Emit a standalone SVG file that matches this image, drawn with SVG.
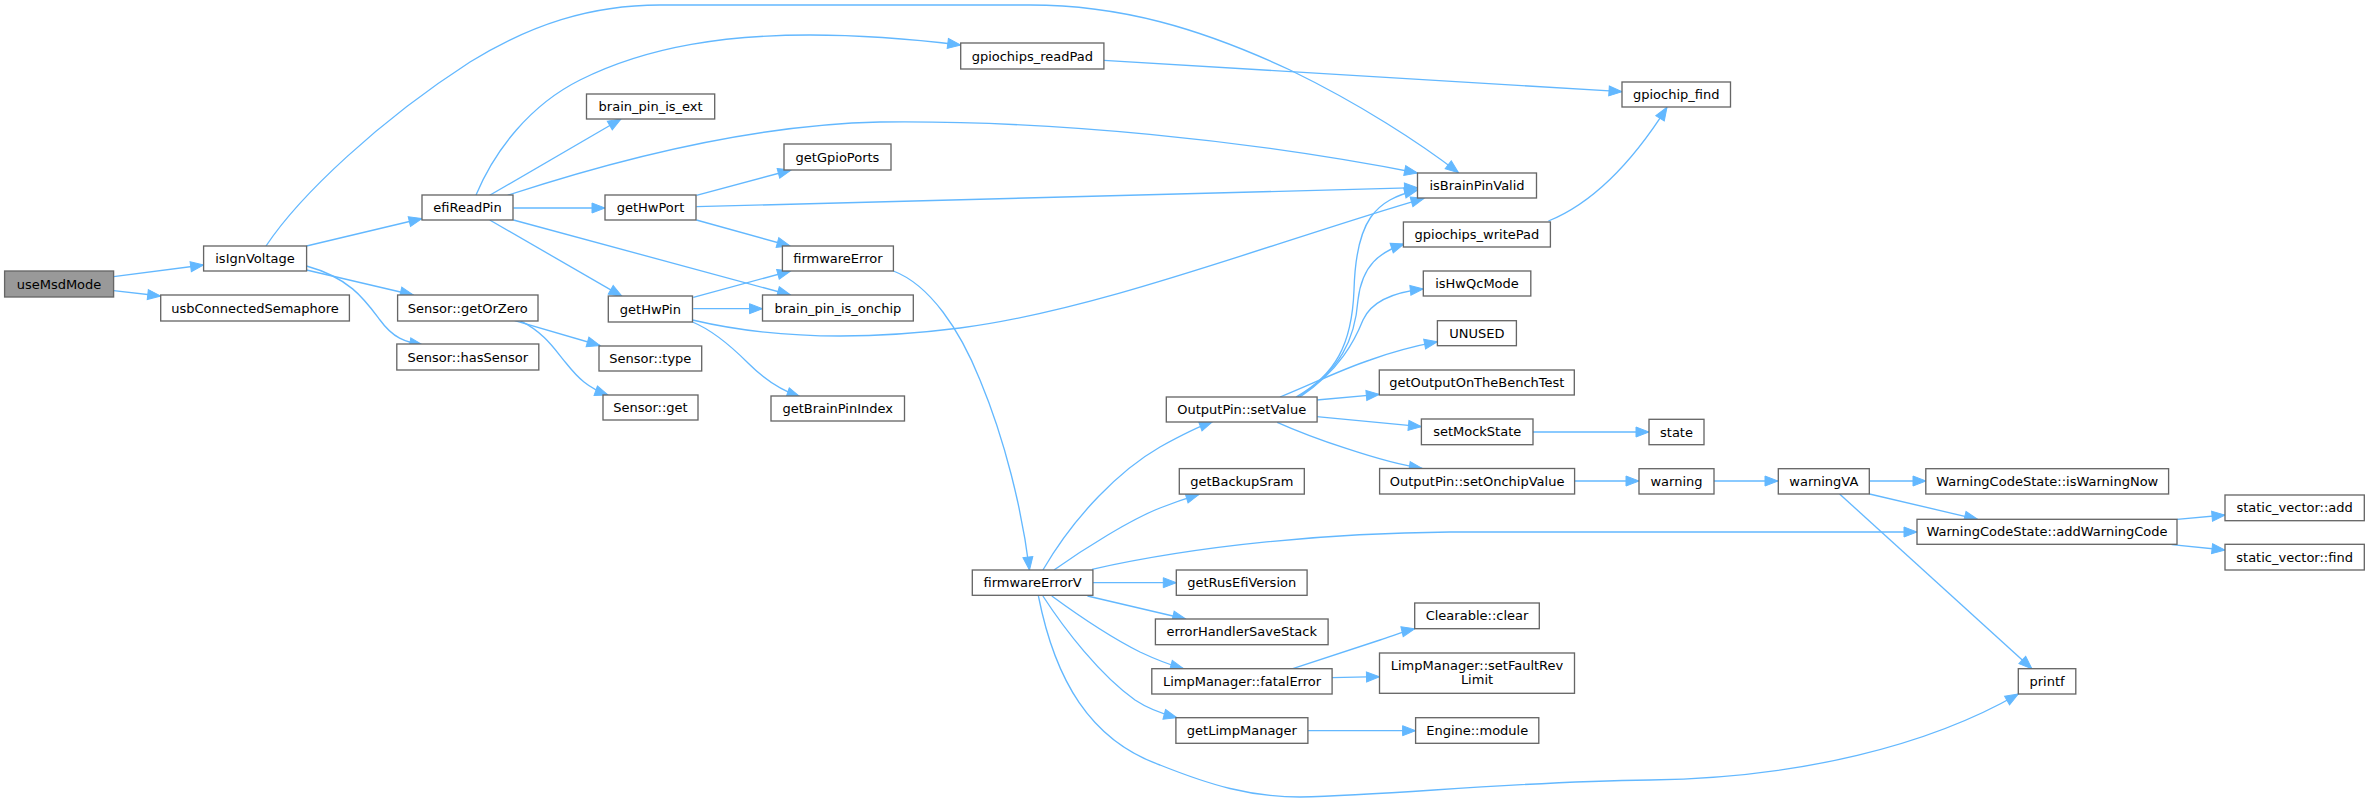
<svg xmlns="http://www.w3.org/2000/svg" width="2369" height="802" viewBox="0 0 2369 802">
<style>
.n rect{fill:#fff;stroke:#666;stroke-width:1.33}
.n.root rect{fill:#999}
.n text{font-family:"DejaVu Sans",sans-serif;font-size:13px;text-anchor:middle;fill:#000}
.e path{fill:none;stroke:#63b8ff;stroke-width:1.33;marker-end:url(#a)}
</style>
<defs>
<marker id="a" markerWidth="14" markerHeight="11" refX="13" refY="5" orient="auto" markerUnits="userSpaceOnUse" overflow="visible">
<path d="M0,0 L13,5 L0,10 z" fill="#63b8ff" stroke="#63b8ff" stroke-width="1"/>
</marker>
</defs>
<rect width="2369" height="802" fill="#fff"/>
<g id="edges" class="e">
<path d="M113.6,276.7 L203.6,265"/>
<path d="M113.6,290.7 L160.7,296"/>
<path d="M306.5,246 L422,218.5"/>
<path d="M266,246 C300,195 380,120 470,62 C530,25 590,5 660,5 L1030,5 C1120,5 1200,28 1290,70 C1360,104 1420,143 1458.5,172.7"/>
<path d="M306.5,270 L413.3,295"/>
<path d="M306.5,266 C350,278 365,300 380,320 C393,338 405,342 422.8,345"/>
<path d="M476,195 C495,150 530,105 580,80 C650,45 730,35 810,35 C870,35 920,40 960.7,45"/>
<path d="M489.7,195.3 L621,119"/>
<path d="M507.6,195.3 C600,165 740,125 880,122 C1050,120 1250,140 1417.5,173"/>
<path d="M513.4,208 L605,208"/>
<path d="M513.4,220 L790.5,295"/>
<path d="M489.7,220 L622,296.3"/>
<path d="M514.7,320.7 L600,345.5"/>
<path d="M520,320.7 C545,333 555,350 566,363 C578,378 588,388 608,395"/>
<path d="M696.4,195.3 L791,170"/>
<path d="M696.4,206.7 L1417.5,187.7"/>
<path d="M696.4,220 L790,246"/>
<path d="M693.3,297.3 L790.5,271"/>
<path d="M693.3,308.7 L762.5,308.7"/>
<path d="M692.5,320 C760,336 850,342 960,328 C1100,310 1280,240 1424,198.3"/>
<path d="M692.5,322 C712,330 730,345 748,363 C765,380 780,390 800,396.7"/>
<path d="M1103.9,60.3 L1622,91.7"/>
<path d="M893.4,271 C930,285 960,330 980,380 C1005,440 1022,510 1029.5,570"/>
<path d="M1042.9,570 C1075,515 1120,470 1160,447 C1180,436 1195,428 1212.5,421.7"/>
<path d="M1054,570 C1085,548 1130,520 1160,508 C1175,502 1187,498 1199,494.3"/>
<path d="M1092,569.3 C1200,545 1330,533 1450,532 L1917,532"/>
<path d="M1092.9,582.7 L1176.3,582.7"/>
<path d="M1087.5,596 L1185.7,619"/>
<path d="M1051.8,596 C1075,613 1110,637 1140,652 C1157,660 1170,665 1183.5,668.7"/>
<path d="M1042.9,596 C1065,630 1100,675 1135,700 C1150,710 1163,714 1176.8,717.7"/>
<path d="M1038.4,596 C1055,680 1090,740 1160,765 C1210,785 1250,797 1300,797 C1400,795 1500,782 1650,780 C1800,778 1930,745 2018.3,694"/>
<path d="M1296,397 C1335,375 1352,345 1354,290 C1356,220 1375,200 1417.5,190"/>
<path d="M1298,397 C1340,370 1355,340 1358,300 C1362,265 1380,252 1404,244"/>
<path d="M1300,397 C1340,370 1355,340 1363,320 C1372,300 1395,292 1423.3,289"/>
<path d="M1280,397 C1310,385 1340,370 1370,360 C1395,351 1415,346 1437.4,341.7"/>
<path d="M1316.7,400 L1379.3,394.3"/>
<path d="M1316.7,416.7 L1421.4,426.7"/>
<path d="M1277.2,422.3 C1310,437 1380,462 1422.3,468.5"/>
<path d="M1548.4,221 C1600,200 1640,150 1667,107.3"/>
<path d="M1533,432 L1649,432"/>
<path d="M1575,481 L1639,481"/>
<path d="M1714,481 L1778,481"/>
<path d="M1292.8,668.7 C1320,660 1350,650 1380,640 C1395,635 1405,631 1414.7,628.7"/>
<path d="M1332,677.7 L1379.5,676.7"/>
<path d="M1308,730.7 L1415.6,730.7"/>
<path d="M1869.5,481 L1926,481"/>
<path d="M1869.5,494 L1977.5,519.3"/>
<path d="M1839.6,494 L2031.9,668.7"/>
<path d="M2177,519.3 L2225,515"/>
<path d="M2171.7,544.7 L2225,550"/>
</g>
<g id="useMsdMode" class="n root"><rect x="4.6" y="271" width="109" height="26"/><text x="59" y="288.5">useMsdMode</text></g>
<g id="isIgnVoltage" class="n"><rect x="203.6" y="246" width="103" height="25"/><text x="255" y="263">isIgnVoltage</text></g>
<g id="usbConnectedSemaphore" class="n"><rect x="160.7" y="295" width="188.7" height="26"/><text x="255" y="312.5">usbConnectedSemaphore</text></g>
<g id="efiReadPin" class="n"><rect x="422" y="195" width="91" height="25"/><text x="467.5" y="212">efiReadPin</text></g>
<g id="Sensor_getOrZero" class="n"><rect x="397.6" y="295" width="140.4" height="26"/><text x="467.8" y="312.5">Sensor::getOrZero</text></g>
<g id="Sensor_hasSensor" class="n"><rect x="396.8" y="344" width="142" height="26"/><text x="467.8" y="361.5">Sensor::hasSensor</text></g>
<g id="gpiochips_readPad" class="n"><rect x="960.7" y="43" width="143.2" height="26"/><text x="1032.3" y="60.5">gpiochips_readPad</text></g>
<g id="brain_pin_is_ext" class="n"><rect x="586.5" y="94" width="128.2" height="25"/><text x="650.6" y="111">brain_pin_is_ext</text></g>
<g id="getGpioPorts" class="n"><rect x="784" y="144" width="107" height="26"/><text x="837.5" y="161.5">getGpioPorts</text></g>
<g id="getHwPort" class="n"><rect x="605" y="195" width="91" height="25"/><text x="650.5" y="212">getHwPort</text></g>
<g id="firmwareError" class="n"><rect x="782.4" y="246" width="111" height="25"/><text x="837.9" y="263">firmwareError</text></g>
<g id="getHwPin" class="n"><rect x="608.3" y="296" width="84.2" height="26"/><text x="650.4" y="313.5">getHwPin</text></g>
<g id="brain_pin_is_onchip" class="n"><rect x="762.5" y="295" width="150.8" height="26"/><text x="837.9" y="312.5">brain_pin_is_onchip</text></g>
<g id="Sensor_type" class="n"><rect x="599" y="346" width="102.7" height="25"/><text x="650.3" y="363">Sensor::type</text></g>
<g id="Sensor_get" class="n"><rect x="603" y="395" width="95" height="25"/><text x="650.5" y="412">Sensor::get</text></g>
<g id="getBrainPinIndex" class="n"><rect x="771" y="396" width="133.5" height="25"/><text x="837.7" y="413">getBrainPinIndex</text></g>
<g id="gpiochip_find" class="n"><rect x="1622" y="82" width="108.5" height="25"/><text x="1676.2" y="99">gpiochip_find</text></g>
<g id="isBrainPinValid" class="n"><rect x="1417.5" y="173" width="119" height="25"/><text x="1477" y="190">isBrainPinValid</text></g>
<g id="gpiochips_writePad" class="n"><rect x="1403.4" y="222" width="147" height="25"/><text x="1476.9" y="239">gpiochips_writePad</text></g>
<g id="isHwQcMode" class="n"><rect x="1423.3" y="271" width="107.5" height="25"/><text x="1477" y="288">isHwQcMode</text></g>
<g id="UNUSED" class="n"><rect x="1437.4" y="320.7" width="79" height="25"/><text x="1476.9" y="337.7">UNUSED</text></g>
<g id="getOutputOnTheBenchTest" class="n"><rect x="1379.3" y="370" width="195" height="25"/><text x="1476.8" y="387">getOutputOnTheBenchTest</text></g>
<g id="OutputPin_setValue" class="n"><rect x="1166.3" y="397" width="150.8" height="25"/><text x="1241.7" y="414">OutputPin::setValue</text></g>
<g id="setMockState" class="n"><rect x="1421.4" y="419" width="111.6" height="25.7"/><text x="1477.2" y="436.3">setMockState</text></g>
<g id="state" class="n"><rect x="1649" y="419.3" width="55" height="25.4"/><text x="1676.5" y="436.5">state</text></g>
<g id="OutputPin_setOnchipValue" class="n"><rect x="1379.6" y="468.5" width="195" height="25.5"/><text x="1477.1" y="485.8">OutputPin::setOnchipValue</text></g>
<g id="getBackupSram" class="n"><rect x="1179.3" y="468.6" width="125" height="25.5"/><text x="1241.8" y="485.9">getBackupSram</text></g>
<g id="warning" class="n"><rect x="1639" y="468.7" width="75" height="25.3"/><text x="1676.5" y="485.9">warning</text></g>
<g id="warningVA" class="n"><rect x="1778.3" y="468.7" width="91" height="25.3"/><text x="1823.8" y="485.9">warningVA</text></g>
<g id="WarningCodeState_isWarningNow" class="n"><rect x="1925.8" y="468.7" width="242.8" height="25.3"/><text x="2047.2" y="485.9">WarningCodeState::isWarningNow</text></g>
<g id="static_vector_add" class="n"><rect x="2225" y="495" width="139.3" height="25.7"/><text x="2294.6" y="512.3">static_vector::add</text></g>
<g id="WarningCodeState_addWarningCode" class="n"><rect x="1917" y="519.3" width="260" height="25"/><text x="2047" y="536.3">WarningCodeState::addWarningCode</text></g>
<g id="static_vector_find" class="n"><rect x="2225" y="544.3" width="139.3" height="25.7"/><text x="2294.6" y="561.6">static_vector::find</text></g>
<g id="printf" class="n"><rect x="2018.3" y="668.7" width="57.5" height="25.3"/><text x="2047" y="685.9">printf</text></g>
<g id="firmwareErrorV" class="n"><rect x="972.3" y="570" width="120.6" height="25.3"/><text x="1032.6" y="587.2">firmwareErrorV</text></g>
<g id="getRusEfiVersion" class="n"><rect x="1176.3" y="570" width="130.8" height="25.3"/><text x="1241.7" y="587.2">getRusEfiVersion</text></g>
<g id="errorHandlerSaveStack" class="n"><rect x="1155.4" y="619" width="172.7" height="25.7"/><text x="1241.7" y="636.3">errorHandlerSaveStack</text></g>
<g id="Clearable_clear" class="n"><rect x="1414.7" y="603" width="124.6" height="25.7"/><text x="1477" y="620.3">Clearable::clear</text></g>
<g id="LimpManager_setFaultRevLimit" class="n"><rect x="1379.5" y="653" width="195" height="40.3"/><text x="1477" y="669.5">LimpManager::setFaultRev</text><text x="1477" y="684">Limit</text></g>
<g id="LimpManager_fatalError" class="n"><rect x="1151.8" y="668.7" width="180.3" height="25.3"/><text x="1242" y="685.9">LimpManager::fatalError</text></g>
<g id="getLimpManager" class="n"><rect x="1175.9" y="717.7" width="132" height="25.6"/><text x="1241.9" y="735">getLimpManager</text></g>
<g id="Engine_module" class="n"><rect x="1415.6" y="717.7" width="123.2" height="25.6"/><text x="1477.2" y="735">Engine::module</text></g>
</svg>
